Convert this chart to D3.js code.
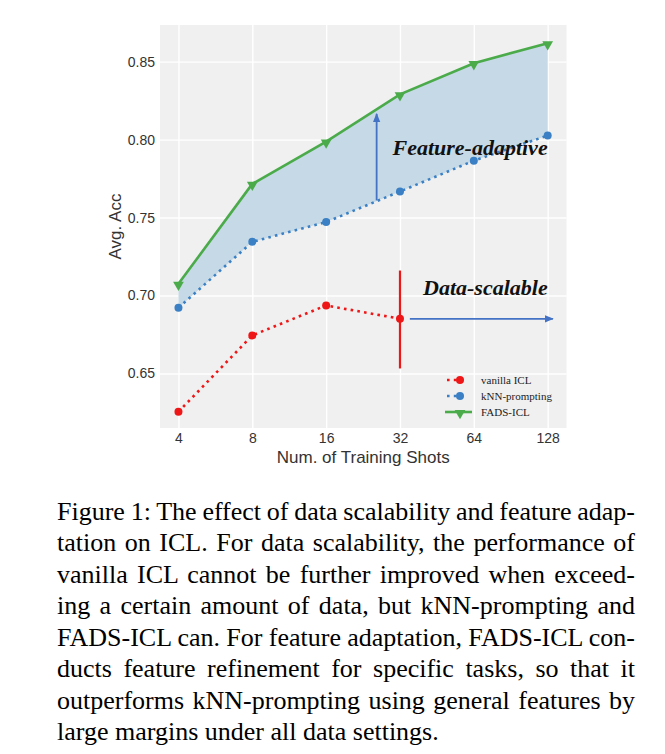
<!DOCTYPE html>
<html>
<head>
<meta charset="utf-8">
<script src="https://cdn.jsdelivr.net/npm/d3@7"></script>
<style>
  html, body { margin: 0; padding: 0; background: #fff; }
  svg { display: block; }
</style>
</head>
<body>
<svg id="chart" width="665" height="754"></svg>
<script>
// ---------- data ----------
const shots = [4, 8, 16, 32, 64, 128];
const xTickLabels = ["4", "8", "16", "32", "64", "128"];
const yTicks = [0.65, 0.70, 0.75, 0.80, 0.85];
const vanillaShots = [4, 8, 16, 32];
const vanillaICL = [0.6254, 0.6744, 0.6936, 0.6851];
const knnPrompting = [0.6921, 0.7344, 0.7471, 0.7667, 0.7865, 0.8026];
const fadsICL = [0.7075, 0.7716, 0.7987, 0.8290, 0.8490, 0.8618];
const seriesNames = ["vanilla ICL", "kNN-prompting", "FADS-ICL"];
// annotations (data coordinates)
const limitLine = { x: 32, y0: 0.6532, y1: 0.716 };
const featureArrow = { x: 25.7, y0: 0.761, y1: 0.8165 };
const scaleArrow = { x0: 35.1, x1: 134.4, y: 0.685 };
const annoTexts = [
  { text: "Feature-adaptive", x: 128, y: 0.7902 },
  { text: "Data-scalable", x: 128, y: 0.700 }
];
const captionLines = [
  "Figure 1: The effect of data scalability and feature adap-",
  "tation on ICL. For data scalability, the performance of",
  "vanilla ICL cannot be further improved when exceed-",
  "ing a certain amount of data, but kNN-prompting and",
  "FADS-ICL can. For feature adaptation, FADS-ICL con-",
  "ducts feature refinement for specific tasks, so that it",
  "outperforms kNN-prompting using general features by",
  "large margins under all data settings."
];

// ---------- layout ----------
const plot = { left: 160, right: 566.5, top: 25, bottom: 428 };
const colors = { red: "#ee1616", blue: "#3b80c4", green: "#4bab4b", arrow: "#4472c4", fill: "#c6d9e6", bg: "#f0f0f0" };

const svg = d3.select("#chart");
svg.append("rect").attr("width", 665).attr("height", 754).attr("fill", "#fff");

const x = d3.scaleLog().base(2)
  .domain([4 / Math.pow(2, 0.25), 128 * Math.pow(2, 0.255)])
  .range([plot.left, plot.right]);
const y = d3.scaleLinear().domain([0.615, 0.8735]).range([plot.bottom, plot.top]);

const g = svg.append("g");
g.append("rect")
  .attr("x", plot.left).attr("y", plot.top)
  .attr("width", plot.right - plot.left).attr("height", plot.bottom - plot.top)
  .attr("fill", colors.bg);

// grid via axes
const xAxis = d3.axisBottom(x).tickValues(shots)
  .tickFormat((d, i) => xTickLabels[i])
  .tickSize(-(plot.bottom - plot.top)).tickPadding(5);
const yAxis = d3.axisLeft(y).tickValues(yTicks)
  .tickFormat(d3.format(".2f"))
  .tickSize(-(plot.right - plot.left)).tickPadding(6);

const gx = g.append("g").attr("transform", `translate(0,${plot.bottom})`).call(xAxis);
const gy = g.append("g").attr("transform", `translate(${plot.left},0)`).call(yAxis);
[gx, gy].forEach(ax => {
  ax.select(".domain").remove();
  ax.selectAll(".tick line").attr("stroke", "#fff").attr("stroke-width", 1.4);
  ax.selectAll(".tick text")
    .attr("fill", "#333")
    .style("font-family", "'Liberation Sans', Arial, sans-serif")
    .style("font-size", "14px");
});
gx.selectAll(".tick text").attr("dy", "0.7em");
gy.selectAll(".tick text").attr("x", -5);

// axis labels
svg.append("text")
  .attr("x", (plot.left + plot.right) / 2).attr("y", 463)
  .attr("text-anchor", "middle")
  .attr("fill", "#333")
  .style("font-family", "'Liberation Sans', Arial, sans-serif")
  .style("font-size", "17px")
  .text("Num. of Training Shots");
svg.append("text")
  .attr("transform", `translate(121,${(plot.top + plot.bottom) / 2}) rotate(-90)`)
  .attr("text-anchor", "middle")
  .attr("fill", "#333")
  .style("font-family", "'Liberation Sans', Arial, sans-serif")
  .style("font-size", "17px")
  .text("Avg. Acc");

// fill between FADS and kNN
const area = d3.area()
  .x((d, i) => x(shots[i]))
  .y0((d, i) => y(knnPrompting[i]))
  .y1(d => y(d));
g.append("path").datum(fadsICL).attr("d", area).attr("fill", colors.fill);

// lines
const line = xs => d3.line().x((d, i) => x(xs[i])).y(d => y(d));
g.append("path").datum(vanillaICL).attr("d", line(vanillaShots))
  .attr("fill", "none").attr("stroke", colors.red).attr("stroke-width", 2.6)
  .attr("stroke-dasharray", "2.6,4.2");
g.append("path").datum(knnPrompting).attr("d", line(shots))
  .attr("fill", "none").attr("stroke", colors.blue).attr("stroke-width", 2.6)
  .attr("stroke-dasharray", "2.6,4.2");
g.append("path").datum(fadsICL).attr("d", line(shots))
  .attr("fill", "none").attr("stroke", colors.green).attr("stroke-width", 2.6);

// markers
g.selectAll(".mv").data(vanillaICL).enter().append("circle")
  .attr("cx", (d, i) => x(vanillaShots[i])).attr("cy", d => y(d))
  .attr("r", 4).attr("fill", colors.red);
g.selectAll(".mk").data(knnPrompting).enter().append("circle")
  .attr("cx", (d, i) => x(shots[i])).attr("cy", d => y(d))
  .attr("r", 4).attr("fill", colors.blue);
const tri = d3.symbol().type(d3.symbolTriangle).size(50);
g.selectAll(".mf").data(fadsICL).enter().append("path")
  .attr("d", tri)
  .attr("transform", (d, i) => `translate(${x(shots[i])},${y(d) + 1}) rotate(180)`)
  .attr("fill", colors.green);

// red limit line
g.append("line")
  .attr("x1", x(limitLine.x)).attr("x2", x(limitLine.x))
  .attr("y1", y(limitLine.y0)).attr("y2", y(limitLine.y1))
  .attr("stroke", colors.red).attr("stroke-width", 2.2);

// arrows
const defs = svg.append("defs");
defs.append("marker").attr("id", "ah")
  .attr("viewBox", "0 0 10 10").attr("refX", 9).attr("refY", 5)
  .attr("markerWidth", 5).attr("markerHeight", 5)
  .attr("markerUnits", "strokeWidth")
  .attr("orient", "auto")
  .append("path").attr("d", "M0,1 L10,5 L0,9 Z").attr("fill", colors.arrow);

g.append("line")
  .attr("x1", x(featureArrow.x)).attr("x2", x(featureArrow.x))
  .attr("y1", y(featureArrow.y0)).attr("y2", y(featureArrow.y1))
  .attr("stroke", colors.arrow).attr("stroke-width", 1.8)
  .attr("marker-end", "url(#ah)");
g.append("line")
  .attr("x1", x(scaleArrow.x0)).attr("x2", x(scaleArrow.x1))
  .attr("y1", y(scaleArrow.y)).attr("y2", y(scaleArrow.y))
  .attr("stroke", colors.arrow).attr("stroke-width", 1.8)
  .attr("marker-end", "url(#ah)");

// annotation texts
g.selectAll(".anno").data(annoTexts).enter().append("text")
  .attr("x", d => x(d.x)).attr("y", d => y(d.y))
  .attr("text-anchor", "end")
  .attr("fill", "#111")
  .style("font-family", "'Liberation Serif', 'Times New Roman', serif")
  .style("font-weight", "bold").style("font-style", "italic")
  .style("font-size", "22px")
  .text(d => d.text);

// legend
const legendRows = [
  { name: seriesNames[0], color: colors.red, type: "dot" },
  { name: seriesNames[1], color: colors.blue, type: "dot" },
  { name: seriesNames[2], color: colors.green, type: "tri" }
];
const lg = g.append("g").attr("transform", "translate(445,380)");
legendRows.forEach((r, i) => {
  const row = lg.append("g").attr("transform", `translate(0,${i * 16})`);
  if (r.type === "dot") {
    row.append("line").attr("x1", 2).attr("x2", 20).attr("y1", 0).attr("y2", 0)
      .attr("stroke", r.color).attr("stroke-width", 2.6).attr("stroke-dasharray", "2.6,4.2");
    row.append("circle").attr("cx", 15).attr("cy", 0).attr("r", 4).attr("fill", r.color);
  } else {
    row.append("line").attr("x1", 0).attr("x2", 27).attr("y1", 0).attr("y2", 0)
      .attr("stroke", r.color).attr("stroke-width", 2.6);
    row.append("path").attr("d", tri).attr("transform", "translate(15,1) rotate(180)").attr("fill", r.color);
  }
  row.append("text").attr("x", 36).attr("y", 0).attr("dy", "0.35em")
    .attr("fill", "#222")
    .style("font-family", "'Liberation Serif', 'Times New Roman', serif")
    .style("font-size", "11px")
    .text(r.name);
});

// caption (justified)
const capLeft = 57, capWidth = 578, capTop = 520, capStep = 31.45;
captionLines.forEach((t, i) => {
  const tx = svg.append("text")
    .attr("x", capLeft).attr("y", capTop + i * capStep)
    .attr("fill", "#000")
    .style("font-family", "'Liberation Serif', 'Times New Roman', serif")
    .style("font-size", "26px")
    .style("white-space", "pre")
    .text(t);
  if (i < captionLines.length - 1) {
    const w = tx.node().getComputedTextLength();
    const spaces = (t.match(/ /g) || []).length;
    if (spaces > 0) tx.style("word-spacing", ((capWidth - w) / spaces) + "px");
  }
});
</script>
</body>
</html>
